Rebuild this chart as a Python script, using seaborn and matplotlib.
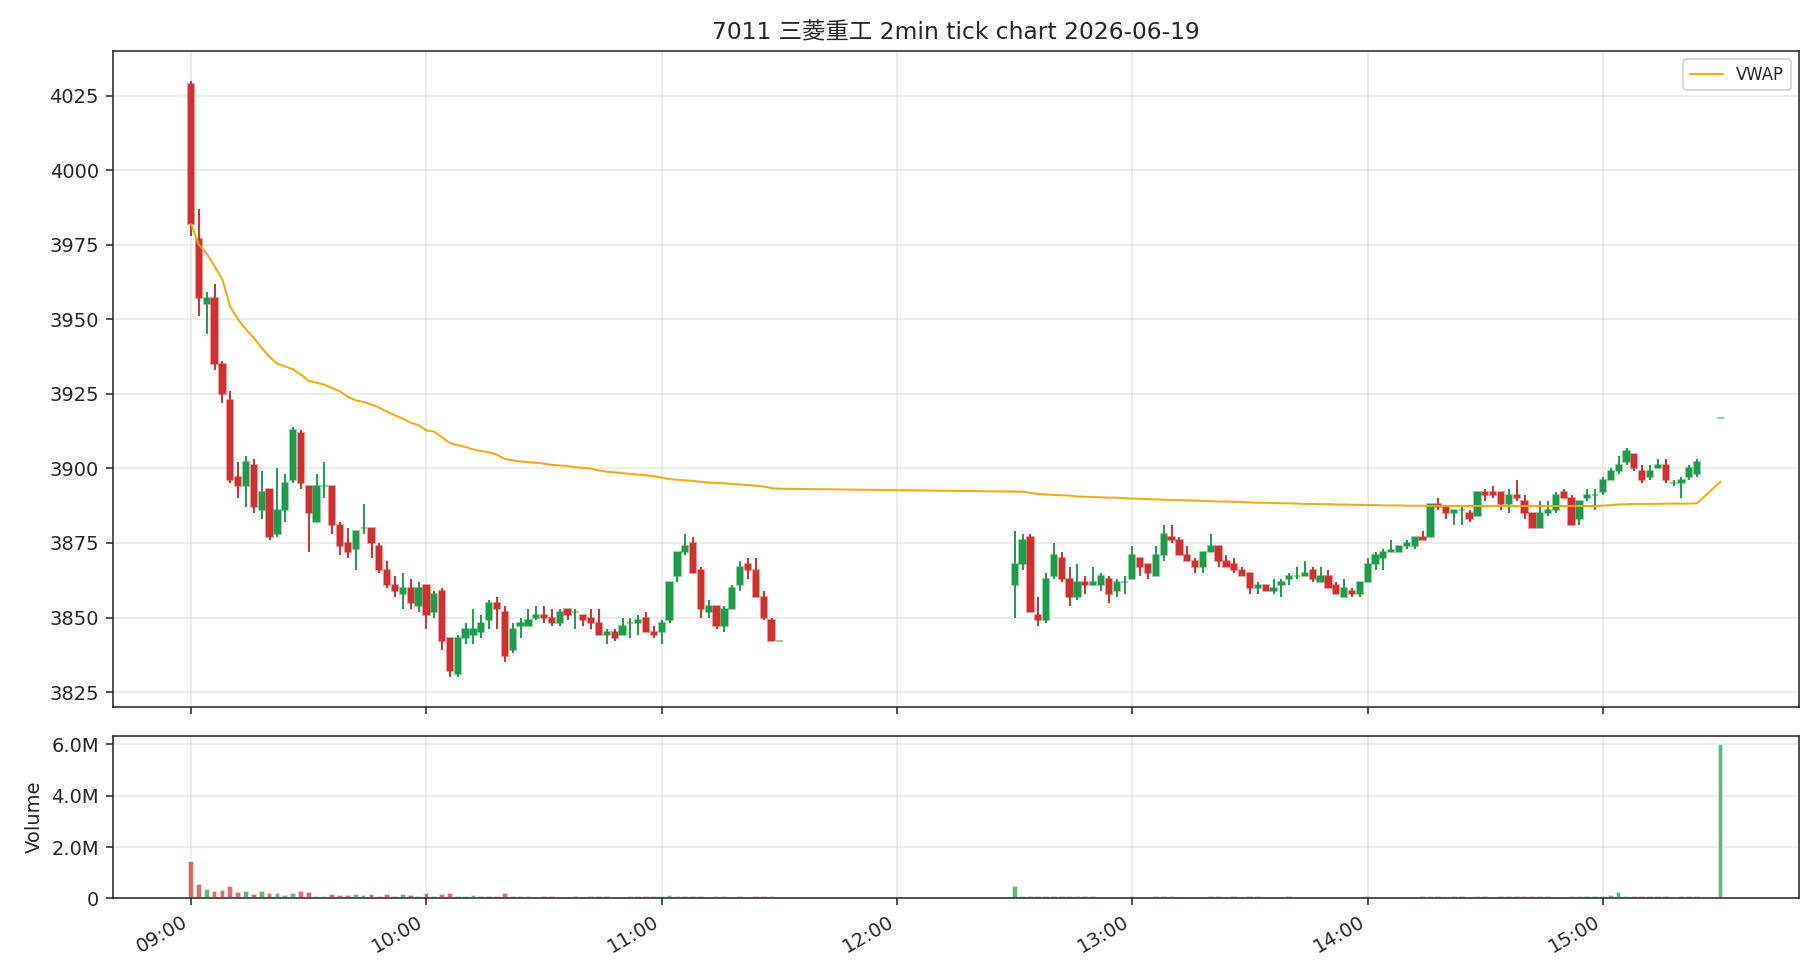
'''
2-minute candlestick chart of 7011 with VWAP line and volume panel
'''
import numpy as np
import pandas as pd
import seaborn as sns
import matplotlib
matplotlib.use("Agg")
import matplotlib.pyplot as plt
import matplotlib.dates as mdates
from matplotlib.colors import to_rgba
from matplotlib.ticker import MultipleLocator, FuncFormatter

# --- Configuration ---
TITLE = "7011 三菱重工 2min tick chart 2026-06-19"
UP_COLOR = "#1b9e4b"
DOWN_COLOR = "#d32f2f"
VWAP_COLOR = "orange"
OUTFILE = "out.png"

# --- Data: morning session 09:00-11:30 ---
open_am = [4029, 3977, 3955, 3957, 3935, 3923, 3897, 3894, 3901, 3886,
           3893, 3878, 3886, 3896, 3912, 3894, 3882, 3894, 3894, 3881,
           3875, 3873, 3880, 3880, 3874, 3866, 3861, 3858, 3860, 3854,
           3861, 3852, 3859, 3843, 3831, 3843, 3844, 3845, 3849, 3855,
           3852, 3839, 3847, 3847, 3850, 3851, 3850, 3848, 3853, 3852,
           3851, 3850, 3848, 3844, 3845, 3844, 3848, 3848, 3850, 3845,
           3845, 3849, 3864, 3872, 3875, 3866, 3852, 3854, 3847, 3853,
           3861, 3868, 3866, 3857, 3849, 3842]
high_am = [4030, 3987, 3959, 3962, 3936, 3926, 3902, 3904, 3903, 3899,
           3893, 3900, 3898, 3914, 3913, 3894, 3898, 3902, 3894, 3882,
           3880, 3879, 3888, 3880, 3875, 3869, 3864, 3865, 3863, 3862,
           3861, 3859, 3860, 3843, 3844, 3848, 3853, 3851, 3856, 3857,
           3854, 3848, 3850, 3853, 3854, 3854, 3853, 3853, 3853, 3853,
           3851, 3853, 3853, 3846, 3846, 3850, 3850, 3851, 3852, 3847,
           3849, 3862, 3872, 3878, 3877, 3867, 3856, 3854, 3854, 3861,
           3869, 3870, 3870, 3859, 3850, 3842]
low_am = [3978, 3951, 3945, 3933, 3922, 3895, 3890, 3887, 3885, 3883,
          3876, 3877, 3882, 3895, 3893, 3872, 3882, 3890, 3878, 3871,
          3870, 3866, 3878, 3870, 3865, 3860, 3857, 3853, 3853, 3852,
          3846, 3850, 3839, 3830, 3830, 3841, 3841, 3843, 3846, 3846,
          3835, 3838, 3843, 3847, 3849, 3848, 3847, 3847, 3849, 3846,
          3847, 3846, 3844, 3841, 3842, 3844, 3843, 3844, 3845, 3843,
          3841, 3848, 3862, 3871, 3865, 3850, 3850, 3846, 3845, 3853,
          3859, 3863, 3857, 3849, 3842, 3842]
close_am = [3982, 3957, 3957, 3935, 3925, 3896, 3894, 3902, 3887, 3892,
            3877, 3886, 3895, 3913, 3895, 3885, 3894, 3894, 3881, 3874,
            3872, 3879, 3880, 3875, 3866, 3861, 3859, 3860, 3855, 3860,
            3851, 3858, 3842, 3832, 3843, 3846, 3846, 3848, 3855, 3853,
            3837, 3846, 3848, 3849, 3851, 3850, 3848, 3852, 3851, 3852,
            3849, 3848, 3844, 3845, 3843, 3847, 3848, 3849, 3845, 3844,
            3848, 3862, 3872, 3874, 3865, 3853, 3854, 3847, 3853, 3860,
            3867, 3866, 3857, 3850, 3842, 3842]
vol_am = [1450000, 560000, 370000, 290000, 330000, 490000, 260000, 290000, 180000, 290000,
          220000, 220000, 150000, 220000, 290000, 260000, 110000, 110000, 180000, 150000,
          150000, 180000, 150000, 180000, 110000, 180000, 110000, 180000, 150000, 110000,
          220000, 80000, 180000, 220000, 110000, 110000, 150000, 80000, 110000, 110000,
          220000, 80000, 80000, 80000, 50000, 80000, 80000, 50000, 50000, 80000,
          50000, 80000, 110000, 80000, 50000, 50000, 80000, 80000, 80000, 80000,
          110000, 150000, 110000, 80000, 80000, 110000, 50000, 80000, 80000, 50000,
          110000, 50000, 80000, 110000, 80000, 50000]
vwap_am = [3982.0, 3975.0, 3972.0, 3967.8, 3963.3, 3954.2, 3949.9, 3946.6, 3943.8, 3940.4,
           3937.4, 3935.1, 3934.2, 3933.2, 3931.5, 3929.4, 3928.7, 3928.1, 3926.9, 3925.8,
           3924.0, 3922.8, 3922.3, 3921.4, 3920.4, 3919.0, 3917.8, 3916.7, 3915.3, 3914.5,
           3912.8, 3912.3, 3910.4, 3908.5, 3907.8, 3907.2, 3906.3, 3905.8, 3905.4, 3904.6,
           3903.2, 3902.7, 3902.3, 3902.1, 3901.9, 3901.6, 3901.2, 3901.0, 3900.8, 3900.4,
           3900.2, 3899.9, 3899.3, 3898.9, 3898.7, 3898.4, 3898.2, 3897.9, 3897.7, 3897.4,
           3896.9, 3896.4, 3896.2, 3896.0, 3895.8, 3895.5, 3895.3, 3895.1, 3895.0, 3894.8,
           3894.6, 3894.4, 3894.2, 3893.9, 3893.4, 3893.2]

# --- Data: afternoon session 12:30-15:24 plus the 15:30 close ---
open_pm = [3861, 3868, 3877, 3851, 3849, 3864, 3870, 3863, 3857, 3862,
           3861, 3861, 3863, 3859, 3862, 3863, 3870, 3868, 3864, 3871,
           3877, 3876, 3871, 3869, 3867, 3872, 3874, 3869, 3868, 3866,
           3865, 3860, 3861, 3859, 3861, 3863, 3864, 3864, 3866, 3862,
           3864, 3861, 3857, 3859, 3858, 3862, 3868, 3870, 3872, 3872,
           3874, 3874, 3877, 3877, 3888, 3887, 3885, 3886, 3885, 3884,
           3892, 3892, 3892, 3888, 3891, 3889, 3885, 3880, 3885, 3886,
           3892, 3890, 3883, 3890, 3891, 3892, 3896, 3899, 3902, 3905,
           3899, 3897, 3900, 3901, 3895, 3895, 3897, 3898, 3917]
high_pm = [3879, 3878, 3878, 3857, 3865, 3875, 3872, 3867, 3868, 3864,
           3867, 3865, 3864, 3863, 3864, 3874, 3870, 3868, 3874, 3881,
           3881, 3877, 3874, 3870, 3872, 3878, 3874, 3871, 3870, 3867,
           3865, 3862, 3861, 3863, 3863, 3865, 3867, 3869, 3867, 3867,
           3866, 3862, 3863, 3860, 3862, 3870, 3872, 3873, 3876, 3874,
           3876, 3877, 3879, 3888, 3890, 3887, 3886, 3887, 3886, 3892,
           3893, 3894, 3892, 3893, 3896, 3891, 3885, 3889, 3889, 3892,
           3893, 3891, 3889, 3893, 3893, 3897, 3900, 3904, 3907, 3905,
           3901, 3901, 3903, 3903, 3896, 3897, 3901, 3903, 3917]
low_pm = [3850, 3866, 3852, 3847, 3848, 3863, 3862, 3854, 3856, 3858,
          3861, 3859, 3855, 3857, 3858, 3863, 3864, 3863, 3864, 3869,
          3875, 3871, 3869, 3865, 3865, 3872, 3867, 3867, 3865, 3864,
          3858, 3858, 3859, 3858, 3857, 3861, 3863, 3864, 3862, 3862,
          3860, 3858, 3857, 3857, 3857, 3862, 3866, 3866, 3872, 3872,
          3873, 3873, 3876, 3877, 3886, 3883, 3881, 3881, 3882, 3884,
          3889, 3890, 3886, 3885, 3889, 3883, 3880, 3880, 3884, 3885,
          3890, 3881, 3881, 3889, 3886, 3891, 3896, 3898, 3901, 3899,
          3895, 3896, 3900, 3895, 3894, 3890, 3896, 3897, 3917]
close_pm = [3868, 3876, 3852, 3849, 3863, 3871, 3863, 3857, 3862, 3861,
            3862, 3864, 3858, 3862, 3862, 3871, 3867, 3865, 3871, 3878,
            3876, 3871, 3869, 3867, 3872, 3874, 3869, 3867, 3866, 3864,
            3860, 3861, 3859, 3860, 3862, 3864, 3864, 3865, 3863, 3864,
            3860, 3858, 3860, 3858, 3862, 3868, 3871, 3872, 3872.5, 3874,
            3875, 3877, 3876, 3888, 3887, 3885, 3886, 3886, 3883, 3892,
            3891, 3891, 3888, 3891, 3890, 3885, 3880, 3885, 3886, 3891,
            3890, 3881, 3889, 3891, 3891, 3896, 3899, 3901, 3906, 3900,
            3896, 3899, 3901, 3896, 3895, 3896, 3900, 3902, 3917]
vol_pm = [490000, 110000, 110000, 110000, 80000, 110000, 80000, 80000, 80000, 80000,
          80000, 50000, 50000, 50000, 50000, 80000, 50000, 50000, 80000, 110000,
          80000, 50000, 50000, 50000, 50000, 80000, 110000, 50000, 80000, 50000,
          110000, 80000, 50000, 50000, 50000, 80000, 50000, 50000, 50000, 50000,
          50000, 50000, 50000, 50000, 50000, 80000, 50000, 50000, 50000, 50000,
          50000, 50000, 110000, 110000, 80000, 50000, 80000, 80000, 50000, 110000,
          80000, 50000, 110000, 80000, 80000, 80000, 80000, 80000, 80000, 50000,
          50000, 80000, 80000, 80000, 80000, 110000, 150000, 260000, 110000, 110000,
          110000, 80000, 80000, 110000, 50000, 80000, 110000, 80000, 6030000]
vwap_pm = [3892.2, 3892.2, 3891.8, 3891.4, 3891.3, 3891.1, 3891.0, 3890.9, 3890.6, 3890.5,
           3890.4, 3890.3, 3890.2, 3890.2, 3890.0, 3889.9, 3889.8, 3889.7, 3889.6, 3889.5,
           3889.4, 3889.4, 3889.3, 3889.2, 3889.1, 3889.0, 3888.9, 3888.9, 3888.8, 3888.7,
           3888.6, 3888.5, 3888.5, 3888.4, 3888.3, 3888.3, 3888.2, 3888.1, 3888.1, 3888.0,
           3888.0, 3887.9, 3887.9, 3887.8, 3887.8, 3887.7, 3887.7, 3887.6, 3887.6, 3887.6,
           3887.5, 3887.5, 3887.5, 3887.4, 3887.4, 3887.4, 3887.4, 3887.4, 3887.4, 3887.4,
           3887.4, 3887.4, 3887.4, 3887.4, 3887.4, 3887.4, 3887.4, 3887.4, 3887.4, 3887.4,
           3887.4, 3887.4, 3887.4, 3887.4, 3887.4, 3887.5, 3887.7, 3887.9, 3888.0, 3888.1,
           3888.1, 3888.1, 3888.1, 3888.2, 3888.2, 3888.2, 3888.2, 3888.3, 3895.6]

times_am = pd.date_range("2026-06-19 09:00", "2026-06-19 11:30", freq="2min")
times_pm = pd.date_range("2026-06-19 12:30", "2026-06-19 15:24", freq="2min")
times_pm = times_pm.append(pd.DatetimeIndex(["2026-06-19 15:30"]))

df = pd.DataFrame({
    "time": times_am.append(times_pm),
    "open": open_am + open_pm,
    "high": high_am + high_pm,
    "low": low_am + low_pm,
    "close": close_am + close_pm,
    "volume": vol_am + vol_pm,
    "vwap": vwap_am + vwap_pm,
})
df["color"] = np.where(df["close"] >= df["open"], UP_COLOR, DOWN_COLOR)
x = mdates.date2num(df["time"])
two_min = 2 / 1440

# --- Figure ---
sns.set_style("ticks")
# latin text in DejaVu, kanji falls through to the CJK family
plt.rcParams["font.family"] = ["DejaVu Sans", "Noto Sans CJK JP"]

fig = plt.figure(figsize=(13, 7), dpi=140)
ax_price = fig.add_axes([0.0619, 0.2786, 0.9266, 0.6694])
ax_vol = fig.add_axes([0.0619, 0.0832, 0.9266, 0.1658], sharex=ax_price)

# candles: wicks, then bodies
ax_price.vlines(x, df["low"], df["high"], colors=df["color"], linewidth=1.0, zorder=2)
ax_price.bar(
    x, (df["close"] - df["open"]).abs(),
    bottom=df[["open", "close"]].min(axis=1),
    width=0.8 * two_min, color=df["color"],
    edgecolor=[to_rgba(c, 0.6) for c in df["color"]],
    linewidth=0.8, zorder=3,
)

sns.lineplot(x=x, y=df["vwap"], ax=ax_price, color=VWAP_COLOR,
             linewidth=1.0, label="VWAP", zorder=4)
ax_price.legend(loc="upper right", fontsize=8.5)

ax_price.set_title(TITLE, fontsize=12)
ax_price.set_ylim(3820, 4040)
ax_price.yaxis.set_major_locator(MultipleLocator(25))
ax_price.set_ylabel("")
ax_price.grid(True, color="#b0b0b0", alpha=0.3)
ax_price.tick_params(labelbottom=False)

# volume panel
ax_vol.bar(x, df["volume"], width=0.72 * two_min, color=df["color"], alpha=0.7)
ax_vol.yaxis.set_major_locator(MultipleLocator(2_000_000))
ax_vol.yaxis.set_major_formatter(
    FuncFormatter(lambda v, _: "0" if v == 0 else f"{v / 1e6:.1f}M"))
ax_vol.set_ylabel("Volume", fontsize=10)
ax_vol.grid(True, color="#b0b0b0", alpha=0.3)

ax_vol.set_xlim(mdates.date2num(pd.Timestamp("2026-06-19 08:40")),
                mdates.date2num(pd.Timestamp("2026-06-19 15:50")))
ax_vol.xaxis.set_major_locator(mdates.HourLocator())
ax_vol.xaxis.set_major_formatter(mdates.DateFormatter("%H:%M"))
plt.setp(ax_vol.get_xticklabels(), rotation=30, ha="right")

fig.savefig(OUTFILE, dpi=140)
plt.close(fig)
